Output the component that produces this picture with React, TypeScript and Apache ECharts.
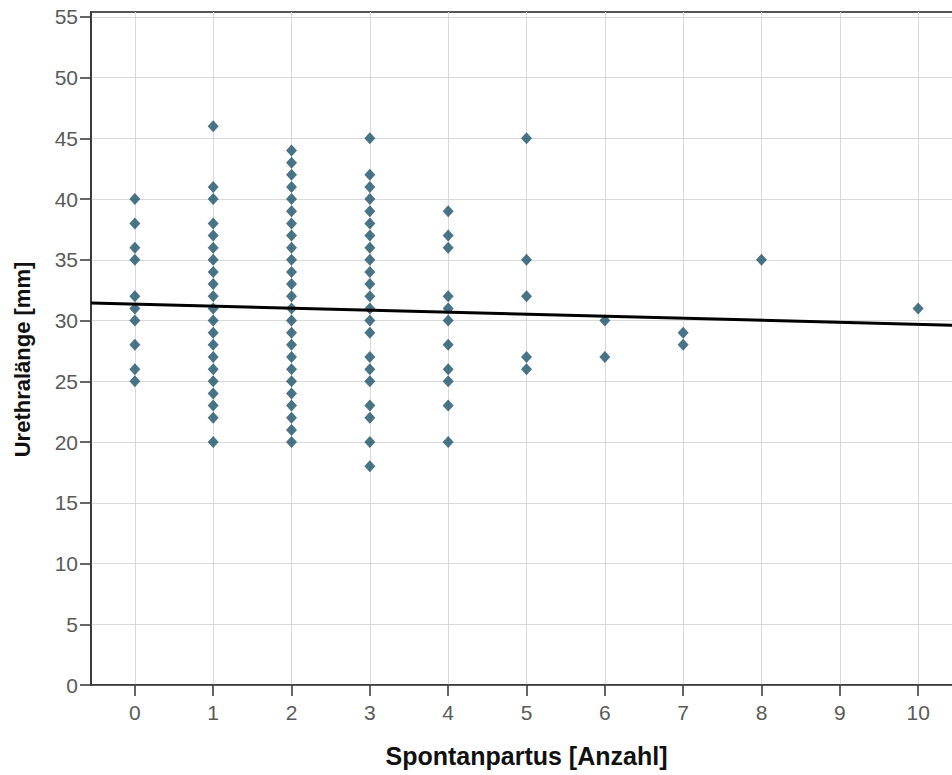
import { useEffect, useRef } from "react";
import * as echarts from "echarts";

// Tick labels
const xTicks = [0, 1, 2, 3, 4, 5, 6, 7, 8, 9, 10];
const yTicks = [0, 5, 10, 15, 20, 25, 30, 35, 40, 45, 50, 55];

// Urethral length [mm] per number of spontaneous births
const partus0 = [40, 38, 36, 35, 32, 31, 30, 28, 26, 25];
const partus1 = [46, 41, 40, 38, 37, 36, 35, 34, 33, 32, 31, 30, 29, 28, 27, 26, 25, 24, 23, 22, 20];
const partus2 = [44, 43, 42, 41, 40, 39, 38, 37, 36, 35, 34, 33, 32, 31, 30, 29, 28, 27, 26, 25, 24, 23, 22, 21, 20];
const partus3 = [45, 42, 41, 40, 39, 38, 37, 36, 35, 34, 33, 32, 31, 30, 29, 27, 26, 25, 23, 22, 20, 18];
const partus4 = [39, 37, 36, 32, 31, 30, 28, 26, 25, 23, 20];
const partus5 = [45, 35, 32, 27, 26];
const partus6 = [30, 27];
const partus7 = [29, 28];
const partus8 = [35];
const partus10 = [31];

const groups: [number, number[]][] = [
  [0, partus0],
  [1, partus1],
  [2, partus2],
  [3, partus3],
  [4, partus4],
  [5, partus5],
  [6, partus6],
  [7, partus7],
  [8, partus8],
  [10, partus10],
];

// Linear fit line (at the axis ends)
const fitX = [-0.56, 10.56];
const fitY = [31.44, 29.6];

const FONT = "'Liberation Sans', Arial, sans-serif";

export default function App() {
  const ref = useRef<HTMLDivElement>(null);

  useEffect(() => {
    const chart = echarts.init(ref.current!, null, { renderer: "svg" });
    const points: number[][] = [];
    groups.forEach(([x, ys]) => ys.forEach((y) => points.push([x, y])));

    chart.setOption({
      animation: false,
      backgroundColor: "#ffffff",
      grid: {
        left: 91,
        top: 12,
        right: 38,
        bottom: 90,
        show: true,
        borderColor: "#555",
        borderWidth: 2,
        backgroundColor: "transparent",
      },
      xAxis: {
        type: "value",
        min: -0.56,
        max: 10.56,
        splitNumber: 11,
        name: "Spontanpartus [Anzahl]",
        nameLocation: "middle",
        nameGap: 58,
        nameTextStyle: { fontFamily: FONT, fontSize: 25, fontWeight: "bold", color: "#111" },
        axisLine: { show: true, onZero: false, lineStyle: { color: "#333", width: 1.5 } },
        axisTick: { show: true, customValues: xTicks, length: 11, lineStyle: { color: "#333", width: 1.5 } },
        axisLabel: {
          customValues: xTicks,
          formatter: (v: number) => String(v),
          fontFamily: FONT,
          fontSize: 21,
          color: "#5a5a5a",
          margin: 17,
        },
        splitLine: { show: true, lineStyle: { color: "#d9d9d9", width: 1 } },
      },
      yAxis: {
        type: "value",
        min: 0,
        max: 55.4,
        splitNumber: 11,
        name: "Urethralänge [mm]",
        nameLocation: "middle",
        nameGap: 58,
        nameTextStyle: { fontFamily: FONT, fontSize: 22, fontWeight: "bold", color: "#111", padding: [0, 22, 0, 0] },
        axisLine: { show: true, onZero: false, lineStyle: { color: "#333", width: 1.5 } },
        axisTick: { show: true, customValues: yTicks, length: 11, lineStyle: { color: "#333", width: 1.5 } },
        axisLabel: {
          customValues: yTicks,
          formatter: (v: number) => String(v),
          fontFamily: FONT,
          fontSize: 21,
          color: "#5a5a5a",
          margin: 13,
        },
        splitLine: { show: true, lineStyle: { color: "#d9d9d9", width: 1 } },
      },
      series: [
        {
          type: "scatter",
          data: points,
          symbol: "diamond",
          symbolSize: [11, 12],
          itemStyle: { color: "#1d5269" },
          z: 2,
        },
        {
          type: "line",
          data: [
            [fitX[0], fitY[0]],
            [fitX[1], fitY[1]],
          ],
          symbol: "none",
          lineStyle: { color: "#000", width: 3 },
          z: 3,
        },
      ],
    });
    return () => chart.dispose();
  }, []);

  return (
    <div
      style={{
        position: "absolute",
        left: 0,
        top: 0,
        width: 952,
        height: 775,
        overflow: "hidden",
        background: "#fff",
      }}
    >
      <div ref={ref} style={{ width: 1000, height: 775 }} />
    </div>
  );
}
